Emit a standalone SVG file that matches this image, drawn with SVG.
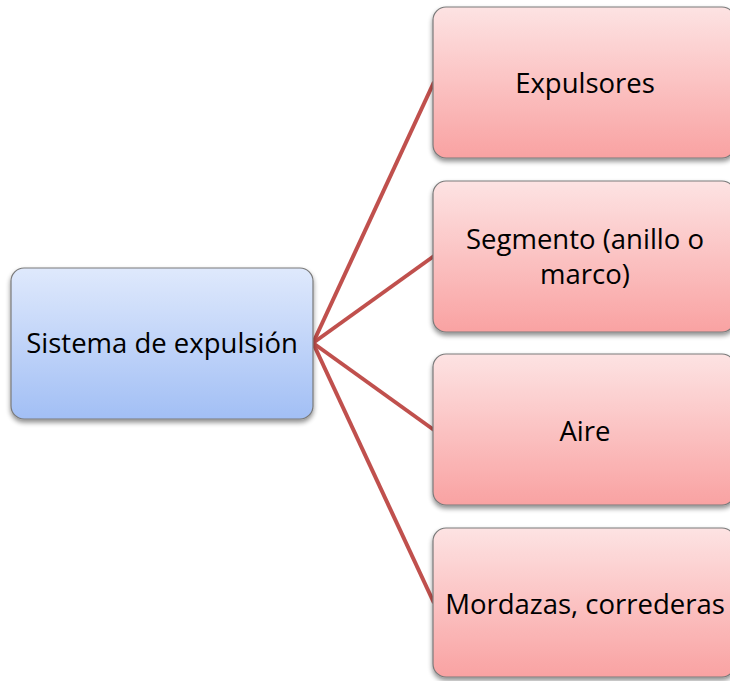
<svg xmlns="http://www.w3.org/2000/svg" width="730" height="681" viewBox="0 0 730 681">
<defs>
<linearGradient id="gb" x1="0" y1="0" x2="0" y2="1"><stop offset="0" stop-color="#dfe9fc"/><stop offset="1" stop-color="#a2bff5"/></linearGradient>
<linearGradient id="gr" x1="0" y1="0" x2="0" y2="1"><stop offset="0" stop-color="#fde3e3"/><stop offset="1" stop-color="#f9a2a2"/></linearGradient>
<filter id="sh" x="-10%" y="-10%" width="120%" height="130%"><feGaussianBlur in="SourceAlpha" stdDeviation="2.5"/><feOffset dx="0" dy="3"/><feComponentTransfer><feFuncA type="linear" slope="0.45"/></feComponentTransfer><feMerge><feMergeNode/><feMergeNode in="SourceGraphic"/></feMerge></filter>
</defs>
<style>
.box{stroke:#7a7a7a;stroke-width:1.2;filter:url(#sh)}
.t{font-family:"Open Sans","Liberation Sans",sans-serif;font-size:27.5px;fill:#000;text-anchor:middle}
.c{stroke:#c0504d;stroke-width:4;fill:none}
</style>
<g id="connectors">
<line class="c" x1="313" y1="343" x2="434" y2="82"/>
<line class="c" x1="313" y1="343" x2="434" y2="256"/>
<line class="c" x1="313" y1="343" x2="434" y2="430"/>
<line class="c" x1="313" y1="343" x2="434" y2="603"/>
</g>
<g id="n0"><rect class="box" x="11" y="268" width="302" height="151" rx="13" fill="url(#gb)"/><text class="t" x="162" y="353">Sistema de expulsión</text></g>
<g id="n1"><rect class="box" x="433" y="7" width="302" height="151" rx="13" fill="url(#gr)"/><text class="t" x="585" y="93">Expulsores</text></g>
<g id="n2"><rect class="box" x="433" y="181" width="302" height="151" rx="13" fill="url(#gr)"/><text class="t" x="585" y="249">Segmento (anillo o</text><text class="t" x="585" y="284">marco)</text></g>
<g id="n3"><rect class="box" x="433" y="354" width="302" height="151" rx="13" fill="url(#gr)"/><text class="t" x="585" y="441">Aire</text></g>
<g id="n4"><rect class="box" x="433" y="528" width="302" height="149" rx="13" fill="url(#gr)"/><text class="t" x="585" y="614">Mordazas, correderas</text></g>
</svg>
